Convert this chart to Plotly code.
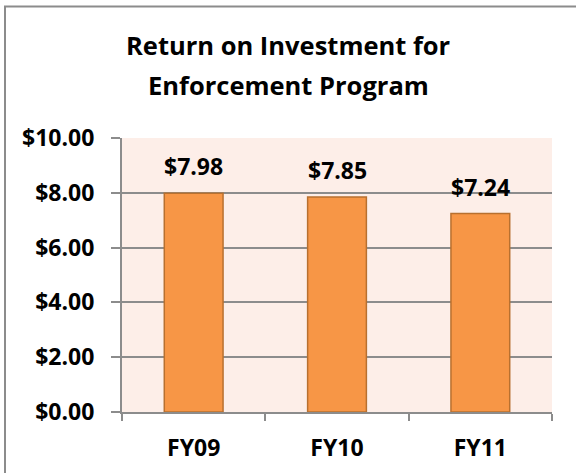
import plotly.graph_objects as go

categories = ["FY09", "FY10", "FY11"]
values = [7.98, 7.85, 7.24]
labels = ["$7.98", "$7.85", "$7.24"]
y_ticks = [0, 2, 4, 6, 8, 10]
y_tick_labels = ["$0.00", "$2.00", "$4.00", "$6.00", "$8.00", "$10.00"]
title_lines = ["Return on Investment for", "Enforcement Program"]

FONT = "Open Sans, sans-serif"

L, R, T, B = 122, 24, 138, 61
W, H = 576, 473
pw, ph = W - L - R, H - T - B

fig = go.Figure()
fig.add_trace(go.Bar(
    x=categories, y=values, width=0.41,
    marker=dict(color="#F79646", line=dict(color="#B8702F", width=1.5)),
    hoverinfo="skip",
))

for c, v, t in zip(categories, values, labels):
    fig.add_annotation(x=c, y=v, text="<b>%s</b>" % t, showarrow=False,
                       yanchor="bottom", yshift=9,
                       font=dict(family=FONT, size=23, color="#000000"))

# two-line title (placed separately to match line spacing)
for i, line in enumerate(title_lines):
    fig.add_annotation(xref="paper", yref="paper", x=(288 - L) / pw,
                       y=(H - B - (64 + 40 * i)) / ph,
                       xanchor="center", yanchor="bottom", showarrow=False,
                       text="<b>%s</b>" % line,
                       font=dict(family=FONT, size=25.5, color="#000000"))

# outer chart border (extends beyond the cropped image on right/bottom)
fig.add_shape(type="rect", xref="paper", yref="paper",
              x0=(5 - L) / pw, x1=(W + 20 - L) / pw,
              y0=(H - B - (H + 20)) / ph, y1=(H - B - 6.5) / ph,
              line=dict(color="#8C8C8C", width=2), layer="below")

fig.update_layout(
    width=W, height=H,
    margin=dict(l=L, r=R, t=T, b=B, autoexpand=False),
    paper_bgcolor="white", plot_bgcolor="#FDEEE8",
    showlegend=False,
    xaxis=dict(type="category", tickson="boundaries", ticks="outside", ticklen=7,
               tickcolor="#8C8C8C", tickwidth=2, showline=True, linecolor="#8C8C8C",
               linewidth=2, showgrid=False, automargin=False,
               tickvals=categories, ticktext=["<b>%s</b>" % c for c in categories],
               tickfont=dict(family=FONT, size=23, color="#000000"),
               ticklabelstandoff=14),
    yaxis=dict(range=[0, 10], tickvals=y_ticks, ticktext=["<b>%s</b>" % s for s in y_tick_labels],
               ticks="outside", ticklen=9, tickcolor="#8C8C8C", tickwidth=2,
               showline=True, linecolor="#8C8C8C", linewidth=2, automargin=False,
               showgrid=True, gridcolor="#8C8C8C", gridwidth=1.5, zeroline=False,
               tickfont=dict(family=FONT, size=23, color="#000000"),
               ticklabelstandoff=12),
)
fig.write_html("out.html", config={"displayModeBar": False},
               post_script="document.body.style.margin='0';")
